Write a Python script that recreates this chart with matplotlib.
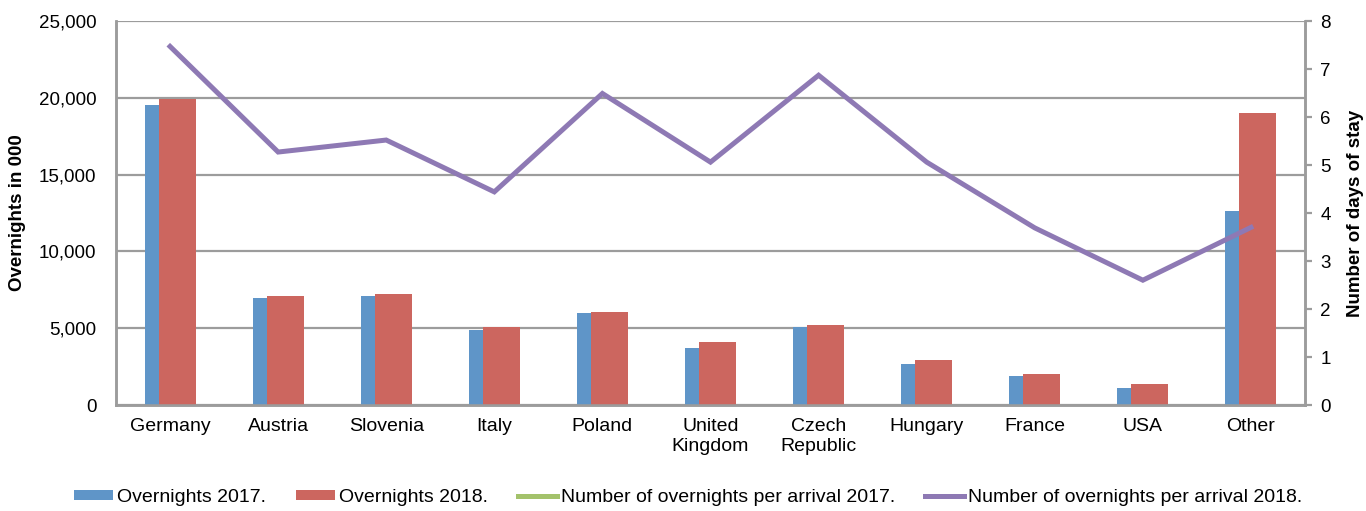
import numpy as np
import matplotlib
matplotlib.use("Agg")
import matplotlib.pyplot as plt
from matplotlib.ticker import StrMethodFormatter

plt.rcParams["font.family"] = ["Liberation Sans", "DejaVu Sans"]

countries = ["Germany", "Austria", "Slovenia", "Italy", "Poland", "United\nKingdom",
             "Czech\nRepublic", "Hungary", "France", "USA", "Other"]
overnights_2017 = [19550, 6950, 7100, 4880, 6020, 3720, 5080, 2680, 1900, 1130, 12650]
overnights_2018 = [19920, 7100, 7210, 5080, 6060, 4100, 5200, 2940, 2030, 1370, 19020]
per_arrival_2017 = [np.nan] * 11   # not visible in the chart
per_arrival_2018 = [7.47, 5.27, 5.52, 4.44, 6.49, 5.06, 6.87, 5.06, 3.69, 2.60, 3.70]

blue = "#5F95C8"
red = "#CC665F"
green = "#A3C26B"
purple = "#8E79B4"
grey = "#9C9C9C"

fig = plt.figure(figsize=(13.66, 5.11), dpi=100)
ax = fig.add_axes([116 / 1366, 1 - 405 / 511, (1305 - 116) / 1366, (405 - 21) / 511])
ax2 = ax.twinx()

x = np.arange(len(countries))
w = 0.342
b1 = ax.bar(x - 0.065, overnights_2017, w, color=blue, zorder=3, label="Overnights 2017.")
b2 = ax.bar(x + 0.065, overnights_2018, w, color=red, zorder=4, label="Overnights 2018.")

l1, = ax2.plot(x, per_arrival_2017, color=green, lw=3.6, label="Number of overnights per arrival 2017.")
l2, = ax2.plot(x, per_arrival_2018, color=purple, lw=3.6, solid_joinstyle="miter",
               label="Number of overnights per arrival 2018.")

ax.set_xlim(-0.5, len(countries) - 0.5)
ax.set_ylim(0, 25000)
ax.set_yticks(range(0, 25001, 5000))
ax.yaxis.set_major_formatter(StrMethodFormatter("{x:,.0f}"))
ax.grid(axis="y", color=grey, lw=1.6, zorder=0)
ax.set_axisbelow(True)
ax.set_xticks(x)
ax.set_xticklabels(countries, fontsize=14, linespacing=1.3)
ax.tick_params(axis="x", length=0, pad=9)
ax.tick_params(axis="y", length=0, pad=14, labelsize=13.5)
ax.set_ylabel("Overnights in 000", fontsize=13.5, fontweight="bold",
              ha="center", va="center")
ax.yaxis.set_label_coords(-0.0825, 0.5)

ax2.set_ylim(0, 8)
ax2.set_yticks(range(0, 9))
ax2.tick_params(axis="y", length=5, width=1.6, color=grey, pad=6, labelsize=13.5)
ax2.set_ylabel("Number of days of stay", fontsize=13.5, fontweight="bold", rotation=90,
               ha="center", va="center")
ax2.yaxis.set_label_coords(1.0425, 0.5)

for a in (ax, ax2):
    for s in a.spines.values():
        s.set_color(grey)
        s.set_linewidth(1.8)
    a.spines["top"].set_visible(False)

fig.legend([b1, b2, l1, l2],
           [b1.get_label(), b2.get_label(), l1.get_label(), l2.get_label()],
           loc="center", bbox_to_anchor=(0.504, 0.027), ncol=4, frameon=False,
           fontsize=14, handlelength=2.0, handleheight=0.4, handletextpad=0.2,
           columnspacing=1.55)

fig.savefig("out.png", dpi=100)
